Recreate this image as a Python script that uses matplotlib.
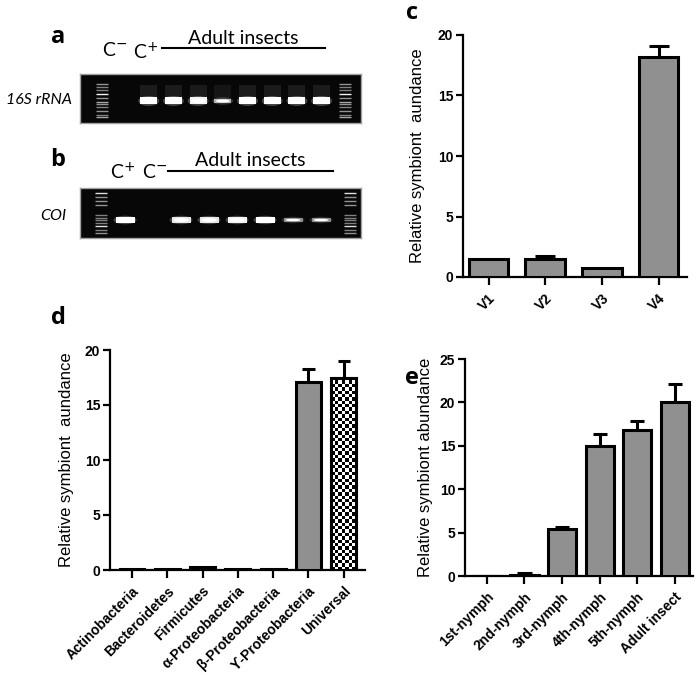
import numpy as np
import matplotlib
matplotlib.use("Agg")
import matplotlib.pyplot as plt
from matplotlib.patches import Ellipse, Rectangle

W, H = 697, 675

# ---- bar chart data ----
c_labels = ["V1", "V2", "V3", "V4"]
c_values = [1.5, 1.5, 0.75, 18.2]
c_errors = [0.0, 0.25, 0.0, 0.9]

d_labels = ["Actinobacteria", "Bacteroidetes", "Firmicutes", "α-Proteobacteria",
            "β-Proteobacteria", "ϒ-Proteobacteria", "Universal"]
d_values = [0.1, 0.1, 0.3, 0.1, 0.1, 17.1, 17.5]
d_errors = [0.0, 0.0, 0.0, 0.0, 0.0, 1.2, 1.5]

e_labels = ["1st-nymph", "2nd-nymph", "3rd-nymph", "4th-nymph", "5th-nymph", "Adult insect"]
e_values = [0.0, 0.15, 5.4, 15.0, 16.8, 20.1]
e_errors = [0.0, 0.15, 0.25, 1.4, 1.1, 2.0]

# ---- gel data (band brightness per lane, 0 = no band) ----
gel_a_bands = [0.0, 1.0, 1.0, 0.95, 0.7, 1.0, 1.0, 1.0, 1.0]        # C-, C+, 7 adults
gel_b_bands = [1.0, 0.0, 0.9, 0.9, 0.95, 1.0, 0.55, 0.55]           # C+, C-, 6 adults
ladder_a = [0.20, 0.26, 0.32, 0.41, 0.48, 0.57, 0.62, 0.68, 0.75, 0.83, 0.88]
ladder_a_int = [0.5, 0.4, 0.4, 1.0, 0.5, 0.6, 0.5, 0.4, 0.5, 0.4, 0.6]
ladder_b = [0.09, 0.17, 0.25, 0.34, 0.54, 0.59, 0.64, 0.69, 0.75, 0.83, 0.90]
ladder_b_int = [0.9, 0.5, 0.5, 0.5, 0.4, 0.4, 0.4, 0.4, 0.9, 0.4, 0.5]

BAR = "#909090"
plt.rcParams["font.family"] = ["Liberation Sans", "DejaVu Sans"]
TICKSIZE = 10
LABFONT = dict(size=12)
LETTER = dict(family="Open Sans", weight="bold", size=17)
GELTXT = dict(family="Lato", size=14)

fig = plt.figure(figsize=(W / 100, H / 100), dpi=100)


def ax_px(left, top, right, bottom):
    return fig.add_axes([left / W, 1 - bottom / H, (right - left) / W, (bottom - top) / H])


def ftext(x, y, s, **kw):
    fig.text(x / W, 1 - y / H, s, **kw)


def bar_panel(ax, labels, values, errors, width, xlim, ymax, step, ylabel, lab_x):
    x = np.arange(len(labels))
    bars = ax.bar(x, values, width=width, color=BAR, edgecolor="black", linewidth=2.2, zorder=3)
    capw = width * 0.5
    for xi, v, e in zip(x, values, errors):
        if e > 0:
            ax.plot([xi, xi], [v, v + e], color="black", lw=2.2, zorder=2, solid_capstyle="butt")
            ax.plot([xi - capw / 2, xi + capw / 2], [v + e, v + e], color="black", lw=2.2,
                    zorder=2, solid_capstyle="butt")
    ax.set_xlim(*xlim)
    ax.set_ylim(0, ymax)
    ax.set_yticks(np.arange(0, ymax + 0.1, step))
    ax.set_xticks(x)
    ax.set_xticklabels(labels, rotation=45, ha="right", va="top", rotation_mode="anchor")
    for s in ["top", "right"]:
        ax.spines[s].set_visible(False)
    for s in ["left", "bottom"]:
        ax.spines[s].set_linewidth(1.6)
    ax.tick_params(axis="y", direction="out", length=5, width=1.6, pad=2, labelsize=TICKSIZE)
    ax.tick_params(axis="x", direction="out", length=6, width=1.6, pad=4, labelsize=TICKSIZE)
    ax.set_ylabel(ylabel, **LABFONT)
    ax.yaxis.set_label_coords(lab_x, 0.5)
    ax.patch.set_alpha(0)
    return bars


# ---- panel c ----
axc = ax_px(463, 35, 687, 277)
bar_panel(axc, c_labels, c_values, c_errors, 0.7, (-0.45, 3.5), 20, 5,
          "Relative symbiont  aundance", -0.17)

# ---- panel d ----
axd = ax_px(110, 350, 365, 570)
bars_d = bar_panel(axd, d_labels, d_values, d_errors, 0.7, (-0.62, 6.6), 20, 5,
                   "Relative symbiont  aundance", -0.14)
# checkered fill for the last bar
ub = bars_d[-1]
bx0, by0 = ub.get_x(), ub.get_y()
bw, bh = ub.get_width(), ub.get_height()
p0 = axd.transData.transform((bx0, by0))
p1 = axd.transData.transform((bx0 + bw, by0 + bh))
ncol = max(2, int(round((p1[0] - p0[0]) / 3.4)))
nrow = max(2, int(round((p1[1] - p0[1]) / 3.4)))
checker = (np.add.outer(np.arange(nrow), np.arange(ncol)) % 2).astype(float)
ub.set_facecolor("white")
im = axd.imshow(checker, cmap="gray", extent=(bx0, bx0 + bw, by0, by0 + bh), aspect="auto",
                interpolation="nearest", zorder=3.5)
im.set_clip_path(ub)
edge = Rectangle((bx0, by0), bw, bh, fill=False, edgecolor="black", linewidth=2.2, zorder=4)
axd.add_patch(edge)
axd.set_xlim(-0.62, 6.6)
axd.set_ylim(0, 20)

# ---- panel e ----
axe = ax_px(465, 359, 693, 576)
bar_panel(axe, e_labels, e_values, e_errors, 0.75, (-0.58, 5.48), 25, 5,
          "Relative symbiont abundance", -0.14)

for a in (axc, axd, axe):
    plt.setp(a.get_xticklabels() + a.get_yticklabels(), fontweight="bold")


# ---- gels ----
def gel(ax, bands, first, spacing, ladders, ladder_y, ladder_int, band_y, band_w, band_h, smear):
    wpx, hpx = ax.bbox.width, ax.bbox.height
    ax.set_xlim(0, wpx)
    ax.set_ylim(hpx, 0)
    ax.set_facecolor("#070707")
    ax.set_xticks([])
    ax.set_yticks([])
    for s in ax.spines.values():
        s.set_color("#a0a0a0")
        s.set_linewidth(1.0)
    for lx in ladders:
        for fy, it in zip(ladder_y, ladder_int):
            g = 0.2 + 0.75 * it
            ax.plot([lx - 6, lx + 6], [fy * hpx, fy * hpx], color=(g, g, g), lw=1.0,
                    solid_capstyle="butt")
    for i, b in enumerate(bands):
        if b <= 0:
            continue
        cx = first + i * spacing
        cy = band_y * hpx
        if smear:
            ax.add_patch(Rectangle((cx - band_w / 2, cy - 16), band_w, 16,
                                   color=(0.16, 0.16, 0.16), alpha=0.6 * b, lw=0))
        hh = band_h * (0.65 if b < 0.8 else 1.0)
        ax.add_patch(Ellipse((cx, cy), band_w + 4, hh + 3, color="white", alpha=0.25 * b, lw=0))
        ax.add_patch(Rectangle((cx - band_w / 2, cy - hh / 2), band_w, hh, color=(b, b, b), lw=0))
        ax.add_patch(Ellipse((cx, cy), band_w * 0.8, hh * 0.7, color="white", lw=0))


axa = ax_px(80, 74, 361, 123)
gel(axa, gel_a_bands, 44, 24.7, [22, 265], ladder_a, ladder_a_int, 0.55, 17, 7, True)
axb = ax_px(80, 188, 361, 238)
gel(axb, gel_b_bands, 45, 28, [21, 270], ladder_b, ladder_b_int, 0.64, 19, 5.5, False)

# gel labels
ftext(58, 37, "a", ha="center", va="center", **LETTER)
ftext(58, 160, "b", ha="center", va="center", **LETTER)
ftext(412, 13, "c", ha="center", va="center", **LETTER)
ftext(58, 318, "d", ha="center", va="center", **LETTER)
ftext(412, 378, "e", ha="center", va="center", **LETTER)

ftext(72, 100, "16S rRNA", ha="right", va="center", family="Lato", style="italic", size=11.5)
ftext(66, 216, "COI", ha="right", va="center", family="Lato", style="italic", size=11.5)

ftext(115, 50, "C$^{-}$", ha="center", va="center", **GELTXT)
ftext(146, 52, "C$^{+}$", ha="center", va="center", **GELTXT)
ftext(243, 38, "Adult insects", ha="center", va="center", **GELTXT)
fig.add_artist(plt.Line2D([162 / W, 325 / W], [1 - 47.5 / H, 1 - 47.5 / H], color="black", lw=1.5))

ftext(123, 172, "C$^{+}$", ha="center", va="center", **GELTXT)
ftext(155, 172, "C$^{-}$", ha="center", va="center", **GELTXT)
ftext(250, 160, "Adult insects", ha="center", va="center", **GELTXT)
fig.add_artist(plt.Line2D([168 / W, 333 / W], [1 - 170.5 / H, 1 - 170.5 / H], color="black", lw=1.5))

fig.savefig("out.png", dpi=100)
